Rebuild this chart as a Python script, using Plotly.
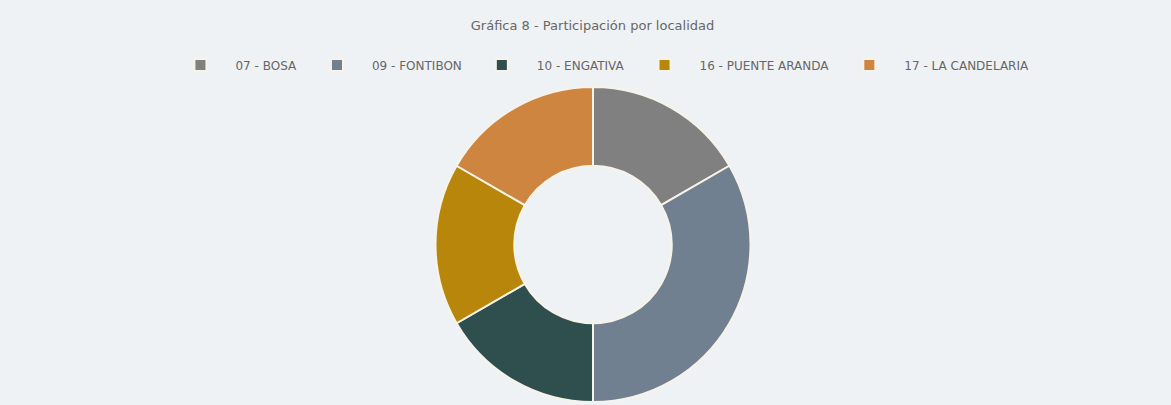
import plotly.graph_objects as go

localidades = ["07 - BOSA", "09 - FONTIBON", "10 - ENGATIVA", "16 - PUENTE ARANDA", "17 - LA CANDELARIA"]
participacion = [1, 2, 1, 1, 1]
colores = ["#808080", "#708090", "#2F4F4F", "#B8860B", "#CD853F"]

fig = go.Figure(go.Pie(
    labels=localidades,
    values=participacion,
    hole=0.5,
    sort=False,
    direction="clockwise",
    rotation=0,
    textinfo="none",
    marker=dict(colors=colores, line=dict(color="#f7f3e8", width=2)),
))

fig.update_layout(
    width=1171, height=405,
    paper_bgcolor="#eff2f5",
    plot_bgcolor="#eff2f5",
    margin=dict(l=15, r=0, t=87, b=3),
    font=dict(family="DejaVu Sans, Arial, sans-serif", size=12, color="#666666"),
    title=dict(text="Gráfica 8 - Participación por localidad", x=0.506, xanchor="center",
               y=1 - 25 / 405, yanchor="middle", yref="container",
               font=dict(size=13, color="#666666")),
    legend=dict(orientation="h", x=0.506, xanchor="center", yref="container",
                y=1 - 65 / 405, yanchor="middle", itemwidth=60,
                font=dict(size=12, color="#666666"), bgcolor="rgba(0,0,0,0)"),
    showlegend=True,
)

fig.write_html("out.html")
